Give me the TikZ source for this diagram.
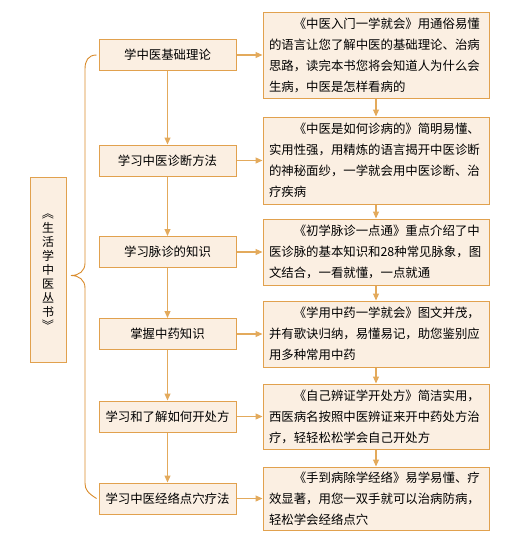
\documentclass[tikz,border=0pt]{standalone}
\usepackage{graphicx}
\usepackage{fontspec}
\newfontfamily\cjk{Noto Sans CJK SC}
\usetikzlibrary{positioning,arrows.meta}
\definecolor{boxline}{HTML}{E1A14E}
\definecolor{boxfill}{HTML}{FBEFE2}
\definecolor{braceline}{HTML}{D98B2B}
\definecolor{arrline}{HTML}{E3AA5C}
\tikzset{box/.style={rectangle, draw=boxline, fill=boxfill, line width=1pt, inner sep=0pt}}
\newcommand{\vbrk}[1]{\rotatebox[origin=c]{-90}{#1}}

\begin{document}
\begin{tikzpicture}[x=1pt, y=-1pt,
  topic/.style={box, minimum width=137pt, minimum height=31pt,
                font=\cjk\fontsize{12.4pt}{15pt}\selectfont},
  blurb/.style={box, minimum width=226pt, inner xsep=6pt, inner ysep=2pt,
                text width=214pt, align=left,
                font=\cjk\fontsize{12.4pt}{21pt}\selectfont},
  series/.style={box, minimum width=36pt, minimum height=185pt, align=center,
                 font=\cjk\fontsize{12pt}{14pt}\selectfont},
  arr/.style={-{Triangle[length=7pt, width=6pt]}, line width=1.1pt, draw=arrline},
  brace/.style={draw=braceline, line width=0.9pt},
]
  \useasboundingbox (0,0) rectangle (505,536);

  % ---- Book descriptions ----
  \node[blurb, minimum height=86pt] (theorybk) at (376,55)
      {\hspace*{2em}《中医入门一学就会》用通俗易懂\\
       的语言让您了解中医的基础理论、治病\\
       思路，读完本书您将会知道人为什么会\\
       生病，中医是怎样看病的};
  \node[blurb, minimum height=87pt, below=18pt of theorybk] (diagbk)
      {\hspace*{2em}《中医是如何诊病的》简明易懂、\\
       实用性强，用精炼的语言揭开中医诊断\\
       的神秘面纱，一学就会用中医诊断、治\\
       疗疾病};
  \node[blurb, minimum height=66pt, below=14pt of diagbk] (pulsebk)
      {\hspace*{2em}《初学脉诊一点通》重点介绍了中\\
       医诊脉的基本知识和28种常见脉象，图\\
       文结合，一看就懂，一点就通};
  \node[blurb, minimum height=66pt, below=15pt of pulsebk] (herbbk)
      {\hspace*{2em}《学用中药一学就会》图文并茂，\\
       并有歌诀归纳，易懂易记，助您鉴别应\\
       用多种常用中药};
  \node[blurb, minimum height=65pt, below=16pt of herbbk] (rxbk)
      {\hspace*{2em}《自己辨证学开处方》简洁实用，\\
       西医病名按照中医辨证来开中药处方治\\
       疗，轻轻松松学会自己开处方};
  \node[blurb, minimum height=63pt, below=17pt of rxbk] (meridianbk)
      {\hspace*{2em}《手到病除学经络》易学易懂、疗\\
       效显著，用您一双手就可以治病防病，\\
       轻松学会经络点穴};

  % ---- Topics ----
  \node[topic, left=26pt of theorybk] (theory) {学中医基础理论};
  \node[topic, left=26pt of diagbk] (diag) {学习中医诊断方法};
  \node[topic, left=26pt of pulsebk] (pulse) {学习脉诊的知识};
  \node[topic, left=26pt of herbbk] (herb) {掌握中药知识};
  \node[topic, left=26pt of rxbk] (rx) {学习和了解如何开处方};
  \node[topic, left=26pt of meridianbk] (meridian) {学习中医经络点穴疗法};

  % ---- Series title ----
  \node[series] (book) at (48,269.5)
      {\vbrk{《}\\生\\活\\学\\中\\医\\丛\\书\\\vbrk{》}};

  % ---- Brace ----
  \coordinate (tip) at (71,275.5);
  \draw[brace] ([xshift=-2pt]theory.west) .. controls (88,55) and (85,61) .. (85,69)
    -- (85,263) .. controls (85,271) and (79,275.5) .. (tip)
    .. controls (79,275.5) and (85,280) .. (85,288)
    -- (85,483) .. controls (85,490) and (88,493) .. ([xshift=-2pt]meridian.west);

  % ---- Arrows ----
  \foreach \a/\b in {theory/diag, diag/pulse, pulse/herb, herb/rx, rx/meridian}{
    \draw[arr] (\a) -- (\b);
    \draw[arr] (\a bk) -- (\b bk);
  }
  \foreach \t in {theory, diag, pulse, herb, rx, meridian}
    \draw[arr] (\t) -- (\t bk);
\end{tikzpicture}
\end{document}
